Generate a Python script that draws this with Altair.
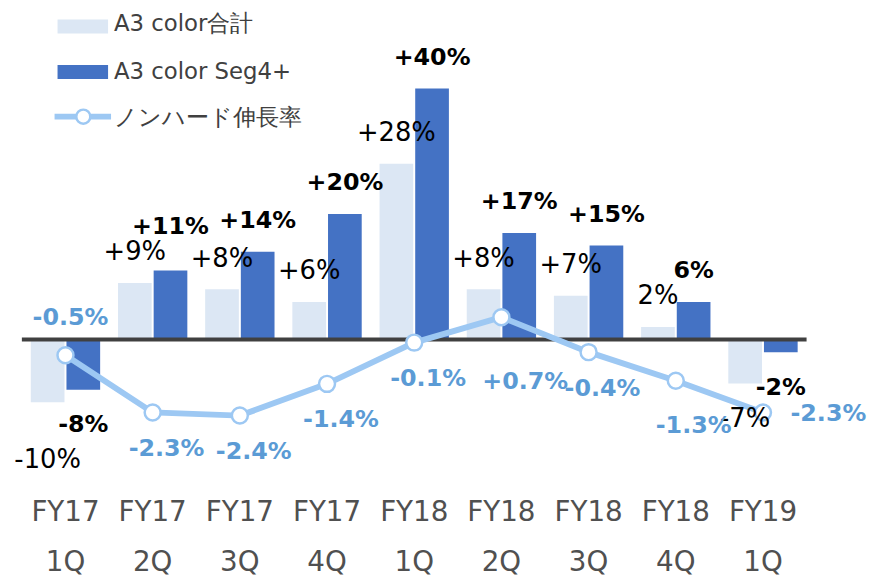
import altair as alt
import pandas as pd

quarters = ["FY17 1Q", "FY17 2Q", "FY17 3Q", "FY17 4Q", "FY18 1Q",
            "FY18 2Q", "FY18 3Q", "FY18 4Q", "FY19 1Q"]
series = ["A3 color合計", "A3 color Seg4+"]
line_name = "ノンハード伸長率"

a3_total = [-10, 9, 8, 6, 28, 8, 7, 2, -7]
a3_seg4 = [-8, 11, 14, 20, 40, 17, 15, 6, -2]
nonhard = [-0.5, -2.3, -2.4, -1.4, -0.1, 0.7, -0.4, -1.3, -2.3]

total_labels = ["-10%", "+9%", "+8%", "+6%", "+28%", "+8%", "+7%", "2%", "-7%"]
seg4_labels = ["-8%", "+11%", "+14%", "+20%", "+40%", "+17%", "+15%", "6%", "-2%"]
nonhard_labels = ["-0.5%", "-2.3%", "-2.4%", "-1.4%", "-0.1%", "+0.7%", "-0.4%", "-1.3%", "-2.3%"]

# label placement (semantic)
total_label_side = ["far", "near", "near", "near", "near", "near", "near", "near", "near"]
seg4_label_side = ["near", "far", "near", "near", "near", "near", "near", "near", "near"]
nonhard_label_side = ["above", "below", "below", "below", "below", "far", "below", "low", "right"]

LIGHT = "#DCE7F4"
DARK = "#4472C4"
LINE = "#9DC8F3"
LINE_TXT = "#5B9BD5"
FONT = "DejaVu Sans"

W, H = 792, 470
bar_domain = [-22.1, 52.1]
line_domain = [-4.375, 10.3]

bars = pd.DataFrame({
    "quarter": quarters * 2,
    "series": [series[0]] * 9 + [series[1]] * 9,
    "value": a3_total + a3_seg4,
    "label": total_labels + seg4_labels,
    "side": total_label_side + seg4_label_side,
})
line = pd.DataFrame({"quarter": quarters, "value": nonhard,
                     "label": nonhard_labels, "side": nonhard_label_side})

xenc = alt.X("quarter:N", sort=quarters,
             scale=alt.Scale(paddingInner=0.2045, paddingOuter=0.1023),
             axis=alt.Axis(title=None, labelAngle=0, domain=False, ticks=False,
                           labelExpr="split(datum.label, ' ')",
                           labelFont=FONT, labelFontSize=28,
                           labelColor="#505050", labelLineHeight=50,
                           labelPadding=21, labelBaseline="top"))
xoff = alt.XOffset("series:N", sort=series,
                   scale=alt.Scale(paddingInner=0.0556, paddingOuter=0))
ybar = alt.Y("value:Q", scale=alt.Scale(domain=bar_domain, nice=False, zero=False), axis=None)
yline = alt.Y("value:Q", scale=alt.Scale(domain=line_domain, nice=False, zero=False), axis=None)

base_bar = alt.Chart(bars)
bar_layer = base_bar.mark_bar().encode(
    x=xenc, xOffset=xoff, y=ybar,
    color=alt.Color("series:N", sort=series,
                    scale=alt.Scale(domain=series, range=[LIGHT, DARK]), legend=None))

zero_rule = alt.Chart(pd.DataFrame({"v": [0]})).mark_rule(color="#404040", strokeWidth=4).encode(
    y=alt.Y("v:Q", scale=alt.Scale(domain=bar_domain, nice=False, zero=False), axis=None),
    x=alt.value(0), x2=alt.value(W))

bar_off = {("near", True): -31, ("far", True): -44, ("near", False): 36, ("far", False): 58}


def bar_text(sname, positive, side, bold):
    flt = (f"datum.series == '{sname}' && datum.side == '{side}' && "
           f"datum.value {'>=' if positive else '<'} 0")
    return base_bar.transform_filter(flt).mark_text(
        font=FONT, fontSize=24 if bold else 26,
        fontWeight="bold" if bold else "normal", color="#000000",
        baseline="middle", dy=bar_off[(side, positive)]).encode(
        x=xenc, xOffset=xoff, y=ybar, text="label:N")


bar_texts = [bar_text(s, p, sd, s == series[1])
             for s in series for p in (True, False) for sd in ("near", "far")]

line_base = alt.Chart(line)
line_layer = line_base.mark_line(color=LINE, strokeWidth=6).encode(x=xenc, y=yline)
pt_layer = line_base.mark_point(shape="circle", filled=True, fill="white", stroke=LINE,
                                strokeWidth=2.5, size=260, opacity=1).encode(x=xenc, y=yline)

side_off = {"above": (5, -38), "below": (14, 37), "low": (18, 46),
            "far": (24, 65), "right": (66, 2)}


def line_text(side):
    dx, dy = side_off[side]
    return line_base.transform_filter(f"datum.side == '{side}'").mark_text(
        font=FONT, fontSize=24, fontWeight="bold", color=LINE_TXT,
        baseline="middle", dx=dx, dy=dy).encode(x=xenc, y=yline, text="label:N")


# legend
one = pd.DataFrame({"a": [0]})
leg_txt = dict(font=FONT, fontSize=23, color="#404040", align="left", baseline="middle")
legend = [
    alt.Chart(one).mark_rect(color=LIGHT).encode(
        x=alt.value(36), x2=alt.value(87), y=alt.value(7), y2=alt.value(21)),
    alt.Chart(one).mark_rect(color=DARK).encode(
        x=alt.value(36), x2=alt.value(87), y=alt.value(53), y2=alt.value(67)),
    alt.Chart(one).mark_rule(color=LINE, strokeWidth=6).encode(
        x=alt.value(33), x2=alt.value(90), y=alt.value(105)),
    alt.Chart(one).mark_point(shape="circle", filled=True, fill="white", stroke=LINE,
                              strokeWidth=2.5, size=200, opacity=1).encode(
        x=alt.value(62), y=alt.value(105)),
    alt.Chart(one).mark_text(text=series[0], **leg_txt).encode(x=alt.value(93), y=alt.value(12)),
    alt.Chart(one).mark_text(text=series[1], **leg_txt).encode(x=alt.value(93), y=alt.value(60)),
    alt.Chart(one).mark_text(text=line_name, **leg_txt).encode(x=alt.value(93), y=alt.value(106)),
]

chart = alt.layer(
    bar_layer, zero_rule, line_layer, pt_layer,
    *bar_texts,
    *[line_text(s) for s in side_off],
    *legend,
).resolve_scale(y="independent").properties(
    width=W, height=H,
    autosize=alt.AutoSizeParams(type="none"),
    padding={"left": 14, "top": 2, "right": 62, "bottom": 97},
).configure_view(stroke=None)

chart.save("out.html", embed_options={"renderer": "svg", "actions": False})
